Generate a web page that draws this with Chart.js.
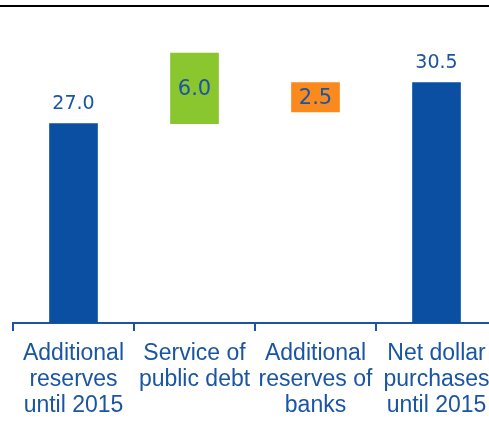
<!DOCTYPE html>
<html>
<head>
<meta charset="utf-8">
<script src="https://cdn.jsdelivr.net/npm/chart.js@4"></script>
<style>
  html, body { margin: 0; padding: 0; overflow: hidden; background: #fff; }
  #topRule { position: absolute; left: 0; top: 5px; width: 100%; height: 2px; background: #000; }
  #chart { position: absolute; left: 0; top: 0; }
</style>
</head>
<body>
<div id="topRule"></div>
<canvas id="chart" width="500" height="442"></canvas>
<script>
// categories (multi-line) and floating bar ranges
const categories = [
  ["Additional", "reserves", "until 2015"],
  ["Service of", "public debt"],
  ["Additional", "reserves of", "banks"],
  ["Net dollar", "purchases", "until 2015"]
];
const barStart = [0, 27.0, 28.0, 0];
const barEnd = [27.0, 33.0, 30.5, 30.5];
const barColors = ["#0b4fa3", "#8ac62d", "#fb8a1e", "#0b4fa3"];
const floating = [false, true, true, false];

const textBlue = "#1a55a3";

// value labels: above totals, centered inside the change bars
const valueLabels = {
  id: "valueLabels",
  afterDatasetsDraw(chart) {
    const c = chart.ctx;
    const meta = chart.getDatasetMeta(0);
    c.save();
    c.fillStyle = textBlue;
    c.textAlign = "center";
    meta.data.forEach((bar, i) => {
      const txt = (barEnd[i] - barStart[i]).toFixed(1);
      if (floating[i]) {
        c.font = "21px 'DejaVu Sans'";
        c.textBaseline = "middle";
        c.fillText(txt, bar.x, (bar.y + bar.base) / 2 + 1);
      } else {
        c.font = "19px 'DejaVu Sans'";
        c.textBaseline = "alphabetic";
        c.fillText(txt, bar.x, bar.y - 15);
      }
    });
    c.restore();
  }
};

new Chart(document.getElementById("chart").getContext("2d"), {
  type: "bar",
  data: {
    labels: categories,
    datasets: [{
      data: barStart.map((s, i) => [s, barEnd[i]]),
      backgroundColor: barColors,
      borderWidth: 0,
      barThickness: 48
    }]
  },
  options: {
    responsive: false,
    animation: false,
    layout: { padding: { top: 18, left: 13, right: 3, bottom: 13 } },
    plugins: { legend: { display: false }, tooltip: { enabled: false } },
    scales: {
      y: { display: false, min: 10, max: 36 },
      x: {
        border: { display: true, color: "#1a55a3", width: 2 },
        grid: { offset: true, drawOnChartArea: false, drawTicks: true, tickLength: 8, color: "#1a55a3", lineWidth: 2 },
        ticks: {
          color: textBlue,
          font: { family: "'Liberation Sans', Arial, sans-serif", size: 23, lineHeight: 1.13 },
          padding: 10,
          maxRotation: 0,
          autoSkip: false
        }
      }
    }
  },
  plugins: [valueLabels]
});
</script>
</body>
</html>
